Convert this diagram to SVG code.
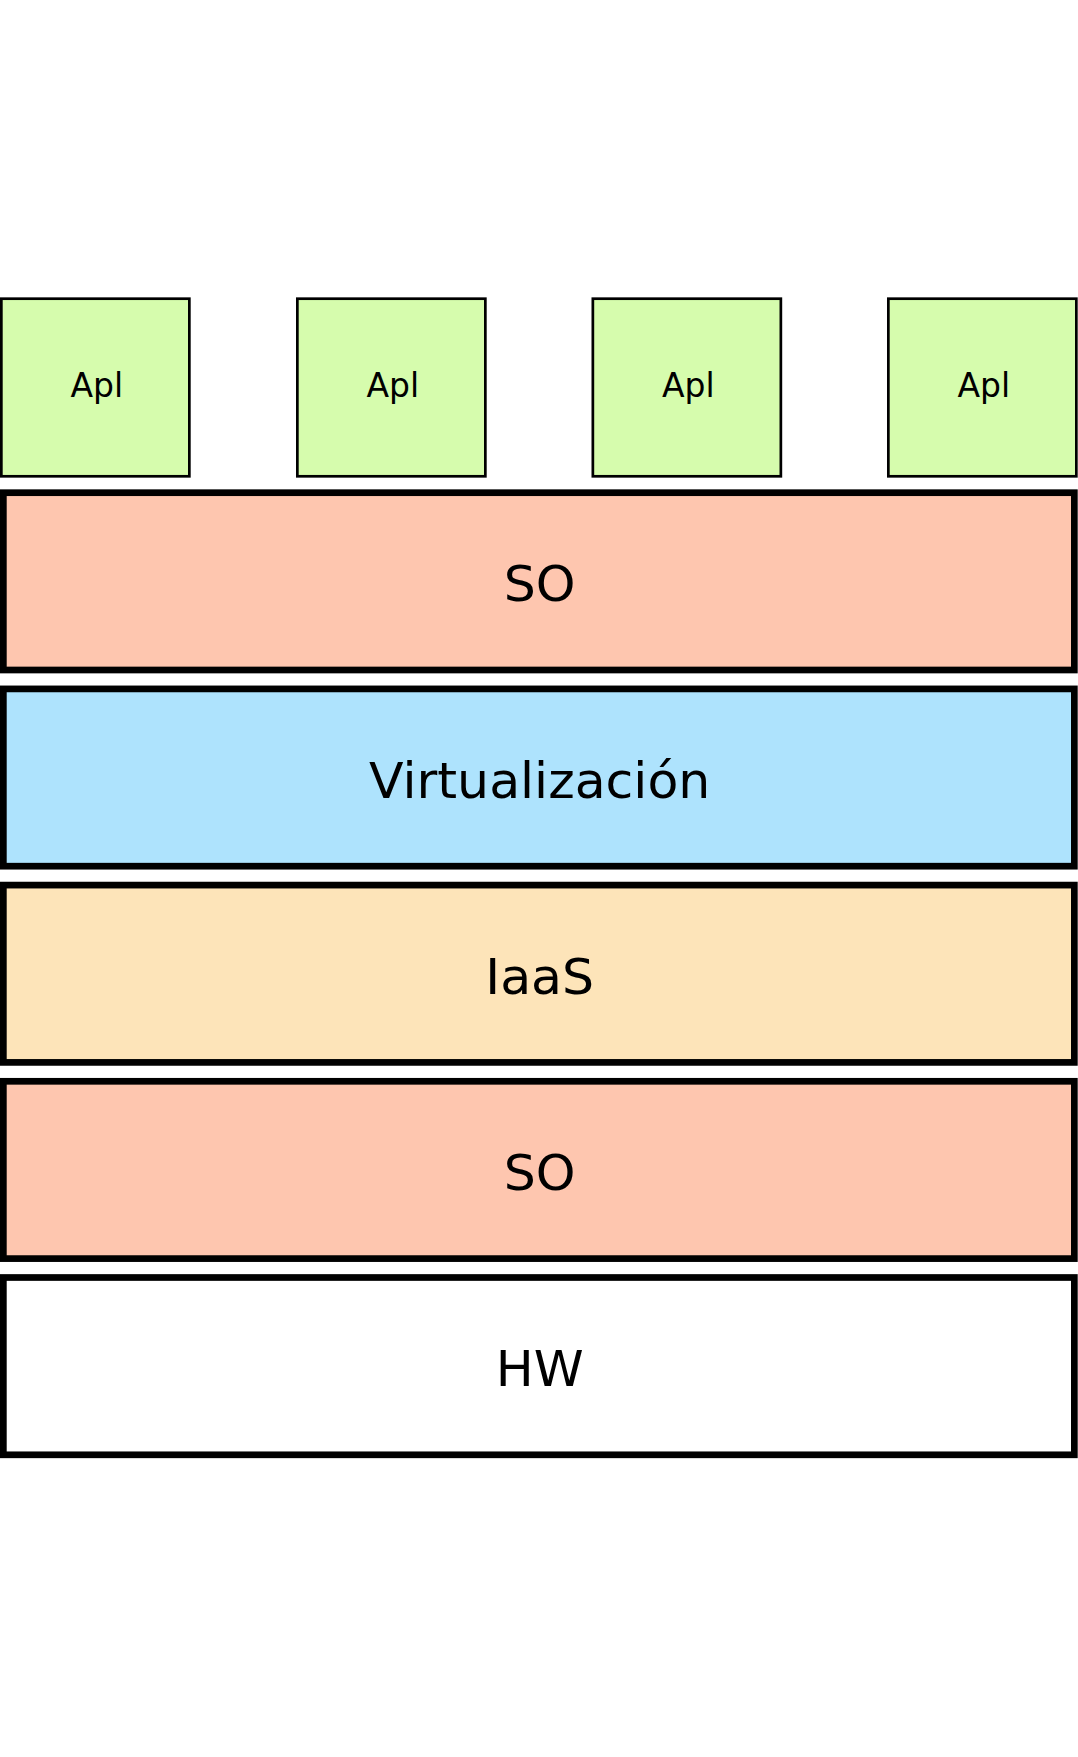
<svg xmlns="http://www.w3.org/2000/svg" width="1078" height="1757" viewBox="0 0 1078 1757">
<style>
.apl{fill:#d6fcad;stroke:#000;stroke-width:2.7}
.layer{stroke:#000;stroke-width:6.7}
.t{font-family:"DejaVu Sans",sans-serif;fill:#000;text-anchor:middle}
.ts{font-size:33px}
.tl{font-size:50.5px}
</style>
<rect x="0" y="0" width="1078" height="1757" fill="#fff"/>
<g id="connectors"></g>
<g id="apl1"><rect class="apl" x="1.35" y="298.7" width="188" height="177.6"/><text class="t ts" x="96.8" y="397.3">Apl</text></g>
<g id="apl2"><rect class="apl" x="297.35" y="298.7" width="188" height="177.6"/><text class="t ts" x="392.8" y="397.3">Apl</text></g>
<g id="apl3"><rect class="apl" x="592.85" y="298.7" width="188" height="177.6"/><text class="t ts" x="688.3" y="397.3">Apl</text></g>
<g id="apl4"><rect class="apl" x="888.35" y="298.7" width="188" height="177.6"/><text class="t ts" x="983.8" y="397.3">Apl</text></g>
<g id="so1"><rect class="layer" x="3.35" y="492.7" width="1071" height="177.3" fill="#fec6af"/><text class="t tl" x="539.7" y="601">SO</text></g>
<g id="virt"><rect class="layer" x="3.35" y="688.9" width="1071" height="177.3" fill="#aee3fd"/><text class="t tl" x="539.7" y="797.5">Virtualización</text></g>
<g id="iaas"><rect class="layer" x="3.35" y="885.1" width="1071" height="177.3" fill="#fde4b9"/><text class="t tl" x="539.7" y="993.5">IaaS</text></g>
<g id="so2"><rect class="layer" x="3.35" y="1081.3" width="1071" height="177.3" fill="#fec6af"/><text class="t tl" x="539.7" y="1189.5">SO</text></g>
<g id="hw"><rect class="layer" x="3.35" y="1277.5" width="1071" height="177.3" fill="#fff"/><text class="t tl" x="539.7" y="1385.5">HW</text></g>
</svg>
